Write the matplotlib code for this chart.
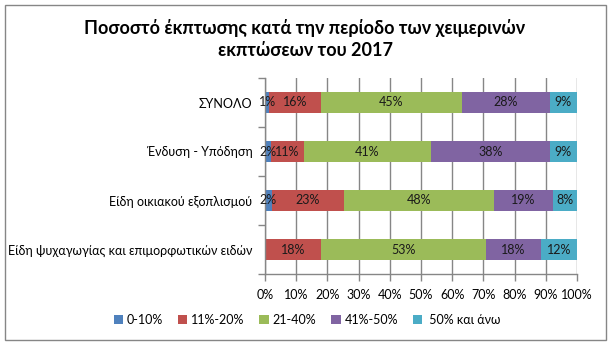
import matplotlib
matplotlib.use("Agg")
import matplotlib.pyplot as plt
from matplotlib.patches import Rectangle
import numpy as np

plt.rcParams['font.family'] = ['Lato', 'Noto Sans', 'DejaVu Sans']

categories = ["ΣΥΝΟΛΟ", "Ένδυση - Υπόδηση", "Είδη οικιακού εξοπλισμού",
              "Είδη ψυχαγωγίας και επιμορφωτικών ειδών"]
series_names = ["0-10%", "11%-20%", "21-40%", "41%-50%", " 50% και άνω"]
v_0_10 = [1.4, 1.8, 2.2, 0.0]
v_11_20 = [16.4, 10.7, 23.1, 17.9]
v_21_40 = [45.2, 40.7, 48.1, 52.8]
v_41_50 = [28.2, 38.1, 19.0, 17.8]
v_50_up = [8.7, 8.7, 7.6, 11.5]
colors = ["#4F81BD", "#C0504D", "#9BBB59", "#8064A2", "#4BACC6"]
xticks = [0, 10, 20, 30, 40, 50, 60, 70, 80, 90, 100]

W, H = 612, 345
fig = plt.figure(figsize=(W / 100, H / 100), dpi=100)
ax = fig.add_axes([265 / W, 1 - 274 / H, (577 - 265) / W, (274 - 78) / H])

data = np.array([v_0_10, v_11_20, v_21_40, v_41_50, v_50_up])
totals = data.sum(axis=0)
norm = data / totals * 100
y = np.arange(len(categories))
left = np.zeros(len(categories))
handles = []
for i, name in enumerate(series_names):
    b = ax.barh(y, norm[i], left=left, height=0.41, color=colors[i], label=name, zorder=2)
    handles.append(b)
    for j in range(len(categories)):
        if data[i, j] > 0:
            ax.text(left[j] + norm[i, j] / 2, y[j], f"{data[i, j]:.0f}%",
                    ha='center', va='center', fontsize=9, color='#1a1a1a', zorder=3)
    left += norm[i]

ax.set_xlim(0, 100)
ax.set_ylim(len(categories) - 0.5, -0.5)
ax.set_xticks(xticks)
ax.set_xticklabels([f"{t}%" for t in xticks], fontsize=9)
ax.set_yticks(y)
ax.set_yticklabels(categories, fontsize=9)
ax.set_yticks(np.arange(-0.5, len(categories)), minor=True)
ax.tick_params(axis='y', which='major', length=0, pad=9)
ax.tick_params(axis='y', which='minor', length=5, color='#868686', width=1)
ax.tick_params(axis='x', length=5, color='#868686', width=1, pad=6)
ax.grid(axis='x', color='#868686', linewidth=1, zorder=0)
ax.set_axisbelow(True)
for s in ['top', 'right']:
    ax.spines[s].set_visible(False)
for s in ['left', 'bottom']:
    ax.spines[s].set_color('#868686')
    ax.spines[s].set_linewidth(1)

fig.text(305 / W, 1 - 28 / H, "Ποσοστό έκπτωσης κατά την περίοδο των χειμερινών",
         ha='center', va='center', fontsize=13, fontweight='bold')
fig.text(305 / W, 1 - 51 / H, "εκπτώσεων του 2017",
         ha='center', va='center', fontsize=13, fontweight='bold')

fig.legend(handles=handles, labels=series_names, loc='center', bbox_to_anchor=(307 / W, 1 - 320 / H),
           ncol=5, frameon=False, fontsize=9, handlelength=0.75, handleheight=0.75,
           handletextpad=0.3, columnspacing=1.2)

fig.patches.append(Rectangle((5 / W, 5 / H), 601 / W, 335 / H, transform=fig.transFigure,
                             fill=False, edgecolor='#868686', linewidth=1))

fig.savefig("out.png", dpi=100)
